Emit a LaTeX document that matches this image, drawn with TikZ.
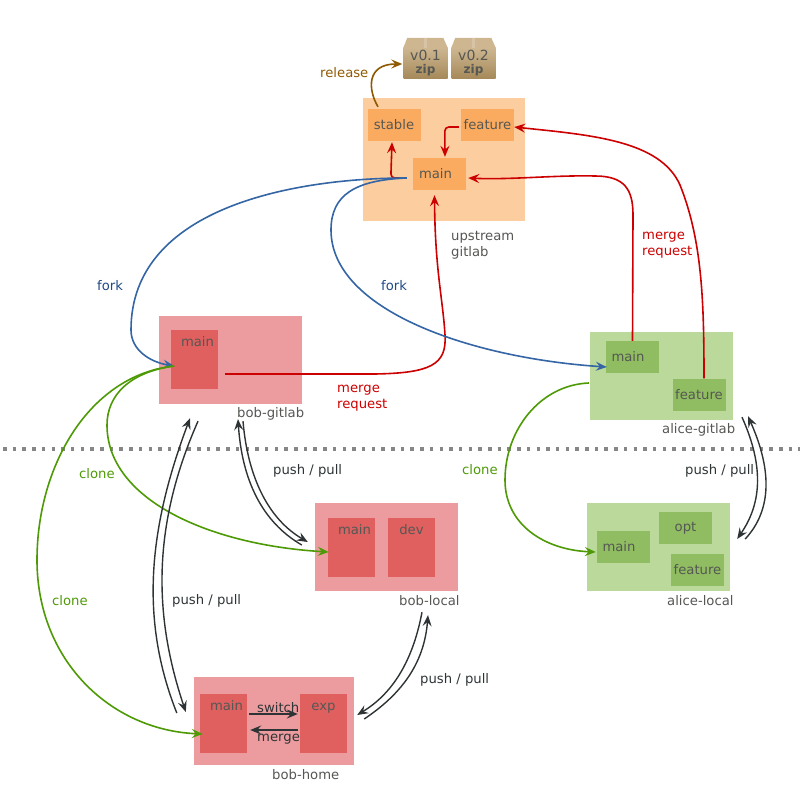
\documentclass[tikz,border=0pt]{standalone}
\usepackage{fontspec}
\setmainfont{DejaVu Sans}
\usetikzlibrary{arrows.meta}
\definecolor{upouter}{HTML}{FCCD9E}
\definecolor{upinner}{HTML}{FBAB60}
\definecolor{redouter}{HTML}{EC9C9F}
\definecolor{redinner}{HTML}{E06060}
\definecolor{greenouter}{HTML}{BBD99B}
\definecolor{greeninner}{HTML}{90BD62}
\definecolor{mergered}{HTML}{CC0000}
\definecolor{forkblue}{HTML}{3465A4}
\definecolor{forktext}{HTML}{204A87}
\definecolor{clonegreen}{HTML}{4E9A06}
\definecolor{relbrown}{HTML}{8F5902}
\definecolor{inkdark}{HTML}{2E3436}
\definecolor{inkgray}{HTML}{555753}
\definecolor{ziptop}{HTML}{CDB690}
\definecolor{zipbot}{HTML}{A68A5B}
\tikzset{
    repobox/.style={minimum width=143pt, minimum height=88pt, inner sep=0pt},
    upbox/.style={fill=upinner, text=inkgray, minimum width=53pt, minimum height=32pt, inner sep=0pt},
    redbox/.style={fill=redinner, text=inkgray, minimum width=47pt, minimum height=59pt, inner sep=0pt, text height=10pt, text depth=36pt},
    greenbox/.style={fill=greeninner, text=inkgray, minimum width=53pt, minimum height=32pt, inner sep=0pt},
    zipbox/.style={top color=ziptop, bottom color=zipbot, minimum width=44pt, minimum height=30pt, inner sep=0pt, align=center, text=inkgray, font=\fontsize{14}{14}\selectfont},
    flow/.style={line width=1.6pt, -{Stealth[length=11pt,width=9pt,inset=4pt]}},
    pushline/.style={flow, line width=1.4pt, inkdark},
    lab/.style={inner sep=0pt, align=left, anchor=west, yshift=-1.5pt},
    repolab/.style={lab, text=inkgray},
    pushlab/.style={lab, text=inkdark}
}
\begin{document}
\begin{tikzpicture}[x=1pt,y=-1pt,font=\fontsize{13.2}{16}\selectfont]
    \useasboundingbox (0,0) rectangle (800,800);
    % Repos
    \node[repobox, fill=upouter, minimum width=162pt, minimum height=123pt] (upstream) at (444,159.5) {};
    \node[repobox, fill=redouter] (bobgitlab) at (230.5,360) {};
    \node[repobox, fill=greenouter] (alicegitlab) at (661.5,376) {};
    \node[repobox, fill=redouter] (boblocal) at (386.5,547) {};
    \node[repobox, fill=greenouter] (alicelocal) at (658.5,547) {};
    \node[repobox, fill=redouter, minimum width=160pt] (bobhome) at (274,721) {};
    % Branches
    \node[upbox] (upstable) at (394,125) {stable};
    \node[upbox] (upfeature) at (487.5,125) {feature};
    \node[upbox] (upmain) at (439.5,174) {\hspace*{-8pt}main};
    \node[redbox] (bgmain) at (194.5,359) {\hspace*{6pt}main};
    \node[greenbox] (agmain) at (632.5,357) {\hspace*{-9pt}main};
    \node[greenbox] (agfeature) at (699,394.5) {feature};
    \node[redbox] (blmain) at (351.5,547.5) {\hspace*{6pt}main};
    \node[redbox] (bldev) at (411.5,547.5) {dev};
    \node[greenbox] (almain) at (623.5,547) {\hspace*{-9pt}main};
    \node[greenbox] (alopt) at (685.5,528) {opt};
    \node[greenbox] (alfeature) at (697.5,570) {feature};
    \node[redbox] (bhmain) at (223.5,723.5) {\hspace*{6pt}main};
    \node[redbox] (bhexp) at (323.5,723.5) {exp};
    % Archives
    \foreach \nam/\xx/\ver in {zipa/425.5/v0.1,zipb/473.5/v0.2}{
        \node[zipbox] (\nam) at (\xx,63) {\ver\\[-1pt]{\bfseries\fontsize{12}{12}\selectfont zip}};
        \fill[ziptop] (\nam.north west) -- ++(4,-10) -- ++(36,0) -- (\nam.north east) -- cycle;
        \fill[white, opacity=0.2] ([xshift=-1.5pt]\nam.north) rectangle ++(3,-10);
    }
    % Dotted split
    \coordinate (splitl) at (3,449);
    \coordinate (splitr) at (800,449);
    \draw[gray!95, line width=3.5pt, dash pattern=on 3.5pt off 6.2pt] (splitl) -- (splitr);
    % Release
    \draw[flow, relbrown] ([shift={(-16,-2)}]upstable.north) .. controls (368,90) and (366,64) .. ([shift={(-1,1)}]zipa.west);
    % Merge
    \draw[flow, mergered, rounded corners=4pt] ([shift={(-6,4)}]upmain.west) -- ++(-16,0) -- ([shift={(-2,1)}]upstable.south);
    \draw[flow, mergered, rounded corners=4pt] ([shift={(-2,2)}]upfeature.west) -- ++(-14,0) -- ([shift={(5.5,-1)}]upmain.north);
    \draw[flow, mergered] (agmain.north) -- (633,215) .. controls (633,190) and (625,176) .. (595,176) .. controls (555,175) and (510,180) .. ([shift={(2,4)}]upmain.east);
    \draw[flow, mergered] ([xshift=5pt]agfeature.north) .. controls (704,300) and (702,240) .. (680,185) .. controls (660,140) and (590,135) .. ([shift={(0,2)}]upfeature.east);
    \draw[flow, mergered] ([shift={(7,15)}]bgmain.east) -- (375,374) .. controls (430,373) and (447,365) .. (445,335) .. controls (443,300) and (435,270) .. ([shift={(-5,5)}]upmain.south);
    % Fork
    \draw[flow, forkblue] ([shift={(-6,4)}]upmain.west) .. controls (300,178) and (131,205) .. (131,330) .. controls (131,350) and (150,362) .. ([shift={(-44,7)}]bgmain.east);
    \draw[flow, forkblue] ([shift={(-6,4)}]upmain.west) .. controls (355,180) and (331,195) .. (331,230) .. controls (331,310) and (470,358) .. ([shift={(1,10)}]agmain.west);
    % Clone
    \draw[flow, clonegreen] ([shift={(-44,7)}]bgmain.east) .. controls (130,372) and (107,395) .. (107,425) .. controls (107,500) and (210,545) .. ([shift={(1,4.5)}]blmain.west);
    \draw[flow, clonegreen] ([shift={(-44,7)}]bgmain.east) .. controls (90,375) and (37,465) .. (37,560) .. controls (37,660) and (110,730) .. ([shift={(3,10.5)}]bhmain.west);
    \draw[flow, clonegreen] ([shift={(-1,7)}]alicegitlab.west) .. controls (540,385) and (505,430) .. (505,480) .. controls (505,525) and (545,550) .. ([shift={(-1,5)}]almain.west);
    % Push and pull
    \draw[pushline] ([shift={(-32.5,17)}]bobgitlab.south) .. controls (150,530) and (155,620) .. ([shift={(-8,-9)}]bobhome.west);
    \draw[pushline] ([shift={(-17,-8)}]bobhome.west) .. controls (140,620) and (148,530) .. ([shift={(-40.5,14)}]bobgitlab.south);
    \draw[pushline] ([shift={(12.5,17)}]bobgitlab.south) .. controls (248,480) and (270,520) .. ([shift={(-7,-5)}]boblocal.west);
    \draw[pushline] ([shift={(-13,-2)}]boblocal.west) .. controls (262,522) and (242,480) .. ([shift={(7.5,15)}]bobgitlab.south);
    \draw[pushline] ([shift={(35.5,21)}]boblocal.south) .. controls (412,665) and (390,695) .. ([shift={(3,-6)}]bobhome.east);
    \draw[pushline] ([shift={(10,-2)}]bobhome.east) .. controls (400,695) and (424,665) .. ([shift={(41.5,24)}]boblocal.south);
    \draw[pushline] ([shift={(80.5,-3)}]alicegitlab.south) .. controls (768,475) and (757,510) .. ([shift={(7,-8)}]alicelocal.east);
    \draw[pushline] ([shift={(15,-8)}]alicelocal.east) .. controls (772,510) and (772,470) .. ([shift={(86.5,-4)}]alicegitlab.south);
    \draw[pushline] ([shift={(2,-9.5)}]bhmain.east) -- ([shift={(-2,-9.5)}]bhexp.west);
    \draw[pushline] ([shift={(-2,6.5)}]bhexp.west) -- ([shift={(3,6.5)}]bhmain.east);
    % Labels
    \node[lab, text=relbrown] (lrelease) at (320,71) {release};
    \node[repolab] (lupstream) at (451,244) {upstream\\gitlab};
    \node[lab, text=forktext] (lforka) at (97,284) {fork};
    \node[lab, text=forktext] (lforkb) at (381,284) {fork};
    \node[lab, text=mergered] (lmergea) at (642,244) {merge\\request};
    \node[lab, text=mergered] (lmergeb) at (337,397) {merge\\request};
    \node[repolab] (lbobgitlab) at (237,412) {bob-gitlab};
    \node[repolab] (lalicegitlab) at (662,428) {alice-gitlab};
    \node[repolab] (lboblocal) at (399,599) {bob-local};
    \node[repolab] (lalicelocal) at (667,599) {alice-local};
    \node[repolab] (lbobhome) at (272,773) {bob-home};
    \node[lab, text=clonegreen] (lclonea) at (79,472) {clone};
    \node[lab, text=clonegreen] (lcloneb) at (52,599) {clone};
    \node[lab, text=clonegreen] (lclonec) at (462,468) {clone};
    \node[pushlab] (lpusha) at (273,469) {push / pull};
    \node[pushlab] (lpushb) at (685,469) {push / pull};
    \node[pushlab] (lpushc) at (172,599) {push / pull};
    \node[pushlab] (lpushd) at (420,678) {push / pull};
    \node[pushlab] (lswitch) at (257,706) {switch};
    \node[pushlab] (lmerge) at (257,738) {merge};
\end{tikzpicture}
\end{document}
